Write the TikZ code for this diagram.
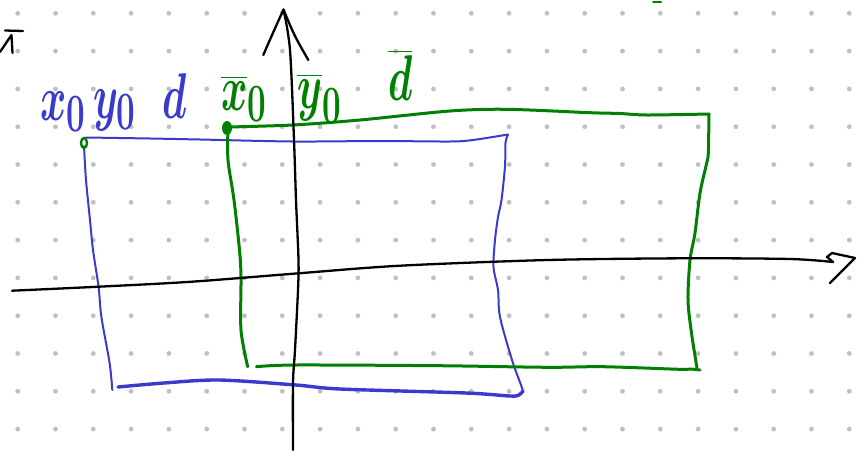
\documentclass[tikz,border=0pt]{standalone}
\definecolor{blueink}{RGB}{58,58,205}
\definecolor{greenink}{RGB}{0,128,0}
\definecolor{dotgray}{RGB}{192,192,192}
\tikzset{
  ink/.style={line cap=round, line join=round},
  bluepen/.style={ink, draw=blueink, line width=2pt},
  bluethick/.style={ink, draw=blueink, line width=3.4pt},
  greenpen/.style={ink, draw=greenink, line width=3pt},
  axispen/.style={ink, draw=black, line width=2.3pt},
  bluetext/.style={text=blueink, inner sep=0pt, anchor=base west, font=\Huge},
  greentext/.style={text=greenink, inner sep=0pt, anchor=base west, font=\Huge},
}
\newcommand{\bigmath}[1]{\scalebox{1.6}[2.6]{\boldmath$#1$}}
\begin{document}
\begin{tikzpicture}[x=1pt, y=-1pt]
\useasboundingbox (0,0) rectangle (859,450);
\fill[white] (0,0) rectangle (859,450);
% dot grid
\foreach \i in {0,...,22} {
  \foreach \j in {0,...,11} {
    \fill[dotgray] (17.7+37.8*\i, 13.3+37.8*\j) circle (2.4pt);
  }
}
% top-left mark
\draw[axispen] (5,30.5) -- (23,31);
\draw[axispen] (0,52) -- (11.5,35) -- (12.5,53);
% tiny green mark at top
\draw[greenpen, line width=2pt] (653,1.5) -- (661,1.5);

% blue rectangle
\draw[bluepen] plot[smooth, tension=0.5] coordinates {(86,137.5) (150,138.5) (200,139.5) (293,141.5) (380,141) (450,141.5) (473,140) (508,134.5)};
\draw[bluepen] plot[smooth, tension=0.5] coordinates {(508,134.5) (505.5,143) (505,166) (501.5,200) (498,217) (495,240) (493.5,267) (498,290) (500,317) (512,360) (521,385) (523,391)};
\draw[bluethick] plot[smooth, tension=0.5] coordinates {(523,391) (519,395) (510,396) (466,393) (340,389) (296,385) (219,380) (164,383) (118,387)};
\draw[bluepen] plot[smooth, tension=0.5] coordinates {(84,146) (86,180) (90,220) (93,250) (98.6,287) (101.4,317) (109.6,363) (112.3,390)};
\draw[greenink, line width=2.4pt] (84,143) ellipse (3pt and 5pt);

% green rectangle
\draw[greenpen] plot[smooth, tension=0.5] coordinates {(228,127) (293,125) (360,120) (450,111) (507,109.3) (590,112.7) (620,113.5) (647,115) (709,114)};
\draw[greenpen] plot[smooth, tension=0.5] coordinates {(709,114) (708.3,153) (706.7,163) (700,193) (695,233) (690,260) (688,300) (691.5,333) (697,368)};
\draw[greenpen] plot[smooth, tension=0.5] coordinates {(700,370) (690,369) (679.5,369.3) (602.7,366.7) (548,367.3) (438.4,365.7) (296,365) (256.4,366.7)};
\draw[greenpen] plot[smooth, tension=0.5] coordinates {(228,128) (228,160) (234,200) (239.5,250) (241,277) (241,330) (247.7,366.7)};
\fill[greenink] (227,128) ellipse (5pt and 7pt);

% axes
\draw[axispen] plot[smooth, tension=0.5] coordinates {(12,290.7) (98.6,286.7) (191.8,281.7) (298.6,273.3) (400,265.7) (548,260) (685,258.3) (790,259) (833,262)};
\draw[axispen] (833,262) -- (827,257) -- (832,253) -- (855,258) -- (830,283);
\draw[axispen] plot[smooth, tension=0.5] coordinates {(293,450) (293,383) (295,350) (298,290) (298.5,260) (296,200) (294,140) (290,50) (283.5,9.5)};
\draw[axispen] (263.3,55) .. controls (272,35) .. (283.5,9.5) .. controls (294,35) .. (308.3,60);

% labels
\node[bluetext] (bx) at (40,120) {\bigmath{x_0}};
\node[bluetext] (by) at (93,118) {\bigmath{y_0}};
\node[bluetext] (bd) at (162,118) {\bigmath{d}};
\node[greentext] (gx) at (221,110) {\bigmath{\overline{x}_0}};
\node[greentext] (gy) at (297,108) {\bigmath{\overline{y}_0}};
\node[greentext] (gd) at (388,100) {\bigmath{\overline{d}}};
\end{tikzpicture}
\end{document}
